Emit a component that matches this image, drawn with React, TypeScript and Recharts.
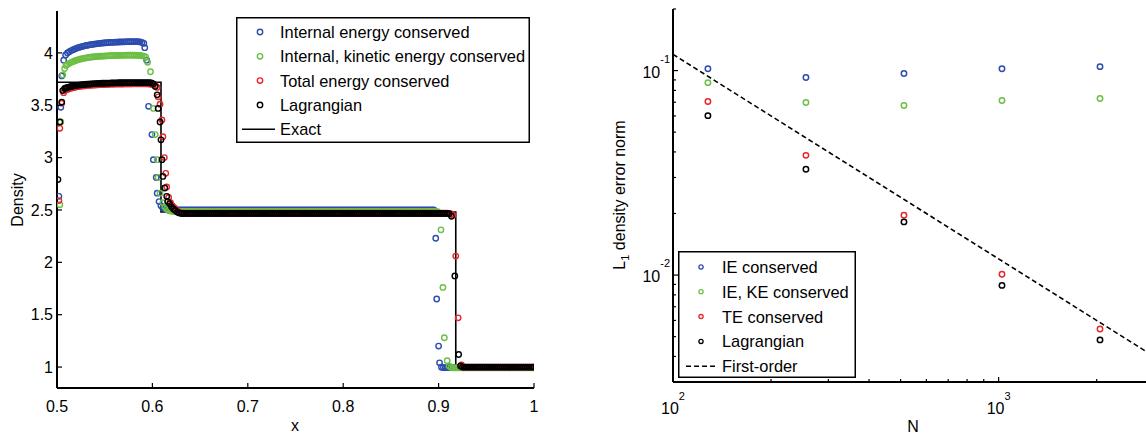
import React from 'react';
import { ComposedChart, Scatter, Line, XAxis, YAxis, Legend } from 'recharts';

const FONT = '"Liberation Sans", Arial, Helvetica, sans-serif';
const BLUE = '#2c4cae';
const GREEN = '#6cbf45';
const RED = '#e8262b';
const BLACK = '#000000';

// ---------------- Left panel: density profiles ----------------
const xTicksL = [0.5, 0.6, 0.7, 0.8, 0.9, 1];
const yTicksL = [1, 1.5, 2, 2.5, 3, 3.5, 4];
const leftNames = ['Internal energy conserved', 'Internal, kinetic energy conserved', 'Total energy conserved', 'Lagrangian', 'Exact'];

const exactX = [0.5, 0.609, 0.609, 0.918, 0.918, 1.0];
const exactY = [3.72, 3.72, 2.48, 2.48, 1.0, 1.0];

const blueRise = [[0.502, 2.63], [0.504, 3.48], [0.505, 3.78], [0.507, 3.93], [0.509, 3.98]];
const greenRise = [[0.503, 2.55], [0.504, 3.34], [0.506, 3.79], [0.508, 3.85], [0.5095, 3.88]];
const redRise = [[0.502, 2.59], [0.503, 3.28], [0.505, 3.52], [0.507, 3.62], [0.509, 3.645]];
const blackRise = [[0.501, 2.79], [0.503, 3.34], [0.505, 3.53], [0.506, 3.64], [0.508, 3.66], [0.5095, 3.665]];

const xFlatA = [
  0.511, 0.513, 0.515, 0.517, 0.519, 0.521, 0.523, 0.525, 0.527, 0.529,
  0.531, 0.533, 0.535, 0.537, 0.539, 0.541, 0.543, 0.545, 0.547, 0.549,
  0.551, 0.553, 0.555, 0.557, 0.559, 0.561, 0.563, 0.565, 0.567, 0.569,
  0.571, 0.573, 0.575, 0.577, 0.579, 0.581, 0.583, 0.585, 0.587, 0.589,
];
const blueFlatA = [
  4.000, 4.012, 4.022, 4.031, 4.039, 4.046, 4.052, 4.058, 4.063, 4.067,
  4.071, 4.075, 4.078, 4.081, 4.084, 4.087, 4.089, 4.091, 4.093, 4.095,
  4.097, 4.098, 4.099, 4.100, 4.101, 4.102, 4.103, 4.104, 4.105, 4.106,
  4.106, 4.107, 4.107, 4.108, 4.108, 4.108, 4.108, 4.107, 4.105, 4.100,
];
const greenFlatA = [
  3.890, 3.900, 3.910, 3.918, 3.925, 3.931, 3.937, 3.942, 3.946, 3.950,
  3.953, 3.956, 3.959, 3.961, 3.963, 3.965, 3.967, 3.968, 3.969, 3.970,
  3.971, 3.972, 3.973, 3.974, 3.975, 3.975, 3.976, 3.976, 3.977, 3.977,
  3.977, 3.978, 3.978, 3.978, 3.978, 3.978, 3.977, 3.976, 3.975, 3.972,
];
const redFlatA = [
  3.650, 3.657, 3.663, 3.668, 3.672, 3.676, 3.679, 3.682, 3.684, 3.686,
  3.688, 3.690, 3.691, 3.692, 3.693, 3.694, 3.695, 3.696, 3.697, 3.698,
  3.699, 3.700, 3.700, 3.701, 3.701, 3.702, 3.702, 3.703, 3.703, 3.703,
  3.704, 3.704, 3.704, 3.704, 3.705, 3.705, 3.705, 3.705, 3.705, 3.705,
];
const blackFlatA = [
  3.670, 3.675, 3.680, 3.684, 3.687, 3.690, 3.693, 3.695, 3.697, 3.699,
  3.701, 3.702, 3.703, 3.705, 3.706, 3.707, 3.708, 3.709, 3.710, 3.710,
  3.711, 3.712, 3.712, 3.713, 3.713, 3.714, 3.714, 3.715, 3.715, 3.715,
  3.716, 3.716, 3.716, 3.717, 3.717, 3.717, 3.717, 3.717, 3.717, 3.717,
];

const blueDrop1 = [[0.591, 4.09], [0.592, 4.05], [0.594, 3.93], [0.596, 3.49], [0.5995, 3.22], [0.601, 2.98], [0.604, 2.81], [0.605, 2.66], [0.607, 2.58], [0.609, 2.54], [0.611, 2.52], [0.613, 2.51], [0.615, 2.503], [0.617, 2.5], [0.619, 2.5], [0.621, 2.5], [0.623, 2.5], [0.625, 2.5], [0.627, 2.5], [0.629, 2.5]];
const greenDrop1 = [[0.591, 3.97], [0.593, 3.96], [0.595, 3.91], [0.598, 3.82], [0.601, 3.47], [0.603, 3.22], [0.605, 2.98], [0.606, 2.81], [0.608, 2.66], [0.611, 2.57], [0.613, 2.53], [0.615, 2.51], [0.617, 2.495], [0.619, 2.49], [0.621, 2.487], [0.623, 2.487], [0.625, 2.487], [0.627, 2.487], [0.629, 2.487]];
const redDrop1 = [[0.591, 3.705], [0.593, 3.705], [0.595, 3.704], [0.597, 3.703], [0.599, 3.7], [0.601, 3.695], [0.603, 3.69], [0.605, 3.67], [0.606, 3.58], [0.608, 3.51], [0.61, 3.36], [0.611, 3.2], [0.6125, 3.0], [0.614, 2.85], [0.615, 2.72], [0.617, 2.62], [0.619, 2.57], [0.621, 2.54], [0.623, 2.52], [0.625, 2.5], [0.627, 2.485], [0.629, 2.475]];
const blackDrop1 = [[0.591, 3.717], [0.593, 3.717], [0.595, 3.716], [0.597, 3.715], [0.599, 3.713], [0.601, 3.705], [0.603, 3.68], [0.605, 3.6], [0.606, 3.47], [0.608, 3.34], [0.609, 3.17], [0.61, 2.98], [0.611, 2.82], [0.613, 2.71], [0.615, 2.63], [0.616, 2.58], [0.618, 2.56], [0.62, 2.53], [0.622, 2.51], [0.624, 2.495], [0.626, 2.48], [0.628, 2.472], [0.63, 2.468]];

const xFlatB = [
  0.631, 0.633, 0.635, 0.637, 0.639, 0.641, 0.643, 0.645, 0.647, 0.649,
  0.651, 0.653, 0.655, 0.657, 0.659, 0.661, 0.663, 0.665, 0.667, 0.669,
  0.671, 0.673, 0.675, 0.677, 0.679, 0.681, 0.683, 0.685, 0.687, 0.689,
  0.691, 0.693, 0.695, 0.697, 0.699, 0.701, 0.703, 0.705, 0.707, 0.709,
  0.711, 0.713, 0.715, 0.717, 0.719, 0.721, 0.723, 0.725, 0.727, 0.729,
  0.731, 0.733, 0.735, 0.737, 0.739, 0.741, 0.743, 0.745, 0.747, 0.749,
  0.751, 0.753, 0.755, 0.757, 0.759, 0.761, 0.763, 0.765, 0.767, 0.769,
  0.771, 0.773, 0.775, 0.777, 0.779, 0.781, 0.783, 0.785, 0.787, 0.789,
  0.791, 0.793, 0.795, 0.797, 0.799, 0.801, 0.803, 0.805, 0.807, 0.809,
  0.811, 0.813, 0.815, 0.817, 0.819, 0.821, 0.823, 0.825, 0.827, 0.829,
  0.831, 0.833, 0.835, 0.837, 0.839, 0.841, 0.843, 0.845, 0.847, 0.849,
  0.851, 0.853, 0.855, 0.857, 0.859, 0.861, 0.863, 0.865, 0.867, 0.869,
  0.871, 0.873, 0.875, 0.877, 0.879, 0.881, 0.883, 0.885, 0.887, 0.889,
  0.891, 0.893,
];
const blueFlatB = [
  2.5, 2.5, 2.5, 2.5, 2.5, 2.5, 2.5, 2.5, 2.5, 2.5, 2.5, 2.5,
  2.5, 2.5, 2.5, 2.5, 2.5, 2.5, 2.5, 2.5, 2.5, 2.5, 2.5, 2.5,
  2.5, 2.5, 2.5, 2.5, 2.5, 2.5, 2.5, 2.5, 2.5, 2.5, 2.5, 2.5,
  2.5, 2.5, 2.5, 2.5, 2.5, 2.5, 2.5, 2.5, 2.5, 2.5, 2.5, 2.5,
  2.5, 2.5, 2.5, 2.5, 2.5, 2.5, 2.5, 2.5, 2.5, 2.5, 2.5, 2.5,
  2.5, 2.5, 2.5, 2.5, 2.5, 2.5, 2.5, 2.5, 2.5, 2.5, 2.5, 2.5,
  2.5, 2.5, 2.5, 2.5, 2.5, 2.5, 2.5, 2.5, 2.5, 2.5, 2.5, 2.5,
  2.5, 2.5, 2.5, 2.5, 2.5, 2.5, 2.5, 2.5, 2.5, 2.5, 2.5, 2.5,
  2.5, 2.5, 2.5, 2.5, 2.5, 2.5, 2.5, 2.5, 2.5, 2.5, 2.5, 2.5,
  2.5, 2.5, 2.5, 2.5, 2.5, 2.5, 2.5, 2.5, 2.5, 2.5, 2.5, 2.5,
  2.5, 2.5, 2.5, 2.5, 2.5, 2.5, 2.5, 2.5, 2.5, 2.5, 2.5, 2.5,
];
const greenFlatB = [
  2.487, 2.487, 2.487, 2.487, 2.487, 2.487, 2.487, 2.487, 2.487, 2.487, 2.487, 2.487,
  2.487, 2.487, 2.487, 2.487, 2.487, 2.487, 2.487, 2.487, 2.487, 2.487, 2.487, 2.487,
  2.487, 2.487, 2.487, 2.487, 2.487, 2.487, 2.487, 2.487, 2.487, 2.487, 2.487, 2.487,
  2.487, 2.487, 2.487, 2.487, 2.487, 2.487, 2.487, 2.487, 2.487, 2.487, 2.487, 2.487,
  2.487, 2.487, 2.487, 2.487, 2.487, 2.487, 2.487, 2.487, 2.487, 2.487, 2.487, 2.487,
  2.487, 2.487, 2.487, 2.487, 2.487, 2.487, 2.487, 2.487, 2.487, 2.487, 2.487, 2.487,
  2.487, 2.487, 2.487, 2.487, 2.487, 2.487, 2.487, 2.487, 2.487, 2.487, 2.487, 2.487,
  2.487, 2.487, 2.487, 2.487, 2.487, 2.487, 2.487, 2.487, 2.487, 2.487, 2.487, 2.487,
  2.487, 2.487, 2.487, 2.487, 2.487, 2.487, 2.487, 2.487, 2.487, 2.487, 2.487, 2.487,
  2.487, 2.487, 2.487, 2.487, 2.487, 2.487, 2.487, 2.487, 2.487, 2.487, 2.487, 2.487,
  2.487, 2.487, 2.487, 2.487, 2.487, 2.487, 2.487, 2.487, 2.487, 2.487, 2.487, 2.487,
];
const redFlatB = [
  2.47, 2.47, 2.47, 2.47, 2.47, 2.47, 2.47, 2.47, 2.47, 2.47, 2.47, 2.47,
  2.47, 2.47, 2.47, 2.47, 2.47, 2.47, 2.47, 2.47, 2.47, 2.47, 2.47, 2.47,
  2.47, 2.47, 2.47, 2.47, 2.47, 2.47, 2.47, 2.47, 2.47, 2.47, 2.47, 2.47,
  2.47, 2.47, 2.47, 2.47, 2.47, 2.47, 2.47, 2.47, 2.47, 2.47, 2.47, 2.47,
  2.47, 2.47, 2.47, 2.47, 2.47, 2.47, 2.47, 2.47, 2.47, 2.47, 2.47, 2.47,
  2.47, 2.47, 2.47, 2.47, 2.47, 2.47, 2.47, 2.47, 2.47, 2.47, 2.47, 2.47,
  2.47, 2.47, 2.47, 2.47, 2.47, 2.47, 2.47, 2.47, 2.47, 2.47, 2.47, 2.47,
  2.47, 2.47, 2.47, 2.47, 2.47, 2.47, 2.47, 2.47, 2.47, 2.47, 2.47, 2.47,
  2.47, 2.47, 2.47, 2.47, 2.47, 2.47, 2.47, 2.47, 2.47, 2.47, 2.47, 2.47,
  2.47, 2.47, 2.47, 2.47, 2.47, 2.47, 2.47, 2.47, 2.47, 2.47, 2.47, 2.47,
  2.47, 2.47, 2.47, 2.47, 2.47, 2.47, 2.47, 2.47, 2.47, 2.47, 2.47, 2.47,
];
const blackFlatB = [
  2.467, 2.467, 2.467, 2.467, 2.467, 2.467, 2.467, 2.467, 2.467, 2.467, 2.467, 2.467,
  2.467, 2.467, 2.467, 2.467, 2.467, 2.467, 2.467, 2.467, 2.467, 2.467, 2.467, 2.467,
  2.467, 2.467, 2.467, 2.467, 2.467, 2.467, 2.467, 2.467, 2.467, 2.467, 2.467, 2.467,
  2.467, 2.467, 2.467, 2.467, 2.467, 2.467, 2.467, 2.467, 2.467, 2.467, 2.467, 2.467,
  2.467, 2.467, 2.467, 2.467, 2.467, 2.467, 2.467, 2.467, 2.467, 2.467, 2.467, 2.467,
  2.467, 2.467, 2.467, 2.467, 2.467, 2.467, 2.467, 2.467, 2.467, 2.467, 2.467, 2.467,
  2.467, 2.467, 2.467, 2.467, 2.467, 2.467, 2.467, 2.467, 2.467, 2.467, 2.467, 2.467,
  2.467, 2.467, 2.467, 2.467, 2.467, 2.467, 2.467, 2.467, 2.467, 2.467, 2.467, 2.467,
  2.467, 2.467, 2.467, 2.467, 2.467, 2.467, 2.467, 2.467, 2.467, 2.467, 2.467, 2.467,
  2.467, 2.467, 2.467, 2.467, 2.467, 2.467, 2.467, 2.467, 2.467, 2.467, 2.467, 2.467,
  2.467, 2.467, 2.467, 2.467, 2.467, 2.467, 2.467, 2.467, 2.467, 2.467, 2.467, 2.467,
];

const blueDrop2 = [[0.895, 2.5], [0.897, 2.23], [0.898, 1.65], [0.9, 1.2], [0.901, 1.04], [0.903, 0.998], [0.905, 0.995], [0.907, 0.995], [0.909, 0.995], [0.911, 0.995], [0.913, 0.995]];
const greenDrop2 = [[0.895, 2.487], [0.897, 2.487], [0.899, 2.485], [0.9025, 2.31], [0.9045, 1.76], [0.906, 1.28], [0.909, 1.06], [0.911, 1.01], [0.913, 0.996]];
const redDrop2 = [[0.895, 2.47], [0.897, 2.47], [0.899, 2.47], [0.901, 2.47], [0.903, 2.47], [0.905, 2.47], [0.907, 2.47], [0.909, 2.47], [0.911, 2.468], [0.913, 2.462], [0.915, 2.45], [0.918, 2.06], [0.9205, 1.47], [0.924, 1.02]];
const blackDrop2 = [[0.895, 2.467], [0.897, 2.467], [0.899, 2.467], [0.901, 2.467], [0.903, 2.467], [0.905, 2.467], [0.907, 2.467], [0.909, 2.467], [0.911, 2.465], [0.9135, 2.44], [0.917, 1.87], [0.921, 1.12], [0.923, 1.01]];

const xFlatD = [
  0.915, 0.917, 0.919, 0.921, 0.923, 0.925, 0.927, 0.929, 0.931, 0.933,
  0.935, 0.937, 0.939, 0.941, 0.943, 0.945, 0.947, 0.949, 0.951, 0.953,
  0.955, 0.957, 0.959, 0.961, 0.963, 0.965, 0.967, 0.969, 0.971, 0.973,
  0.975, 0.977, 0.979, 0.981, 0.983, 0.985, 0.987, 0.989, 0.991, 0.993,
  0.995, 0.997, 0.999,
];
const blueFlatD = [
  0.995, 0.995, 0.995, 0.995, 0.995, 0.995, 0.995, 0.995, 0.995, 0.995,
  0.995, 0.995, 0.995, 0.995, 0.995, 0.995, 0.995, 0.995, 0.995, 0.995,
  0.995, 0.995, 0.995, 0.995, 0.995, 0.995, 0.995, 0.995, 0.995, 0.995,
  0.995, 0.995, 0.995, 0.995, 0.995, 0.995, 0.995, 0.995, 0.995, 0.995,
  0.995, 0.995, 0.995,
];
const greenFlatD = [
  0.993, 0.993, 0.993, 0.993, 0.993, 0.993, 0.993, 0.993, 0.993, 0.993,
  0.993, 0.993, 0.993, 0.993, 0.993, 0.993, 0.993, 0.993, 0.993, 0.993,
  0.993, 0.993, 0.993, 0.993, 0.993, 0.993, 0.993, 0.993, 0.993, 0.993,
  0.993, 0.993, 0.993, 0.993, 0.993, 0.993, 0.993, 0.993, 0.993, 0.993,
  0.993, 0.993, 0.993,
];
const xFlatRed = [
  0.926, 0.928, 0.93, 0.932, 0.934, 0.936, 0.938, 0.94, 0.942, 0.944,
  0.946, 0.948, 0.95, 0.952, 0.954, 0.956, 0.958, 0.96, 0.962, 0.964,
  0.966, 0.968, 0.97, 0.972, 0.974, 0.976, 0.978, 0.98, 0.982, 0.984,
  0.986, 0.988, 0.99, 0.992, 0.994, 0.996, 0.998, 1.0,
];
const redFlatE = [
  1, 1, 1, 1, 1, 1, 1, 1, 1, 1, 1, 1, 1, 1, 1, 1, 1, 1, 1,
  1, 1, 1, 1, 1, 1, 1, 1, 1, 1, 1, 1, 1, 1, 1, 1, 1, 1, 1,
];
const xFlatBlack = [
  0.925, 0.927, 0.929, 0.931, 0.933, 0.935, 0.937, 0.939, 0.941, 0.943,
  0.945, 0.947, 0.949, 0.951, 0.953, 0.955, 0.957, 0.959, 0.961, 0.963,
  0.965, 0.967, 0.969, 0.971, 0.973, 0.975, 0.977, 0.979, 0.981, 0.983,
  0.985, 0.987, 0.989, 0.991, 0.993, 0.995, 0.997, 0.999,
];
const blackFlatE = [
  1, 1, 1, 1, 1, 1, 1, 1, 1, 1, 1, 1, 1, 1, 1, 1, 1, 1, 1,
  1, 1, 1, 1, 1, 1, 1, 1, 1, 1, 1, 1, 1, 1, 1, 1, 1, 1, 1,
];

// ---------------- Right panel: L1 error vs N ----------------
const nValues = [128, 256, 512, 1024, 2048];
const ieErr = [0.102, 0.0925, 0.0967, 0.102, 0.1045];
const ikeErr = [0.0873, 0.0698, 0.0675, 0.0714, 0.073];
const teErr = [0.0706, 0.0385, 0.0196, 0.0101, 0.00545];
const lagErr = [0.0602, 0.0329, 0.0182, 0.0089, 0.00482];
const firstOrderN = [100, 3000];
const firstOrderErr = [0.12, 0.004];
const rightNames = ['IE conserved', 'IE, KE conserved', 'TE conserved', 'Lagrangian', 'First-order'];

const nTicks = [100, 200, 300, 400, 500, 600, 700, 800, 900, 1000, 2000, 3000];
const nMajor = [100, 1000];
const errTicks = [0.003, 0.004, 0.005, 0.006, 0.007, 0.008, 0.009, 0.01, 0.02, 0.03, 0.04, 0.05, 0.06, 0.07, 0.08, 0.09, 0.1, 0.2];
const errMajor = [0.01, 0.1];

// ---------------- helpers ----------------
const pts = (xs: number[], ys: number[]) => xs.map((x, i) => ({ x, y: ys[i] }));
const pairs = (a: number[][]) => a.map(([x, y]) => ({ x, y }));

const blueData = [...pairs(blueRise), ...pts(xFlatA, blueFlatA), ...pairs(blueDrop1), ...pts(xFlatB, blueFlatB), ...pairs(blueDrop2), ...pts(xFlatD, blueFlatD)];
const greenData = [...pairs(greenRise), ...pts(xFlatA, greenFlatA), ...pairs(greenDrop1), ...pts(xFlatB, greenFlatB), ...pairs(greenDrop2), ...pts(xFlatD, greenFlatD)];
const redData = [...pairs(redRise), ...pts(xFlatA, redFlatA), ...pairs(redDrop1), ...pts(xFlatB, redFlatB), ...pairs(redDrop2), ...pts(xFlatRed, redFlatE)];
const blackData = [...pairs(blackRise), ...pts(xFlatA, blackFlatA), ...pairs(blackDrop1), ...pts(xFlatB, blackFlatB), ...pairs(blackDrop2), ...pts(xFlatBlack, blackFlatE)];
const exactData = pts(exactX, exactY);

const ieData = pts(nValues, ieErr);
const ikeData = pts(nValues, ikeErr);
const teData = pts(nValues, teErr);
const lagData = pts(nValues, lagErr);
const firstOrderData = pts(firstOrderN, firstOrderErr);

const ring = (color: string, r = 2.7, sw = 1.4) => (p: any) =>
  p && p.cx != null && p.cy != null ? (
    <circle cx={p.cx} cy={p.cy} r={r} fill="none" stroke={color} strokeWidth={sw} />
  ) : (
    <g />
  );

type Side = 'bottom' | 'top' | 'left' | 'right';
function tickRenderer(
  side: Side,
  margin: number,
  majors: number[] | null,
  label?: (v: number, ax: number, ay: number) => React.ReactNode,
) {
  return (props: any) => {
    const { x, y, payload } = props;
    const v = payload?.value as number;
    const isMajor = majors ? majors.some((m) => Math.abs(m - v) < 1e-9) : true;
    const L = isMajor ? 5 : 3;
    let ax = x, ay = y, x2 = x, y2 = y;
    if (side === 'bottom') { ay = y - margin; y2 = ay - L; }
    else if (side === 'top') { ay = y + margin; y2 = ay + L; }
    else if (side === 'left') { ax = x + margin; x2 = ax + L; }
    else { ax = x - margin; x2 = ax - L; }
    return (
      <g>
        <line x1={ax} y1={ay} x2={x2} y2={y2} stroke="#000" strokeWidth={1.2} />
        {label && isMajor ? label(v, ax, ay) : null}
      </g>
    );
  };
}

const AX = { stroke: '#000', strokeWidth: 2 };
const M = 10;

const leftXLabel = (v: number, ax: number, ay: number) => (
  <text x={ax} y={ay + 24} textAnchor="middle" fontSize={16} fill="#000" fontFamily={FONT}>{String(v)}</text>
);
const leftYLabel = (v: number, ax: number, ay: number) => (
  <text x={ax - 4} y={ay + 5.8} textAnchor="end" fontSize={16} fill="#000" fontFamily={FONT}>{String(v)}</text>
);
const logXLabel = (v: number, ax: number, ay: number) => (
  <text x={ax} y={ay + 32} textAnchor="middle" fontSize={16} fill="#000" fontFamily={FONT}>
    10<tspan dy={-14} fontSize={11}>{String(Math.round(Math.log10(v)))}</tspan>
  </text>
);
const logYLabel = (v: number, ax: number, ay: number) => (
  <text x={ax - 3} y={ay + 7} textAnchor="end" fontSize={16} fill="#000" fontFamily={FONT}>
    10<tspan dy={-15} fontSize={11}>{String(Math.round(Math.log10(v)))}</tspan>
  </text>
);

const leftColors = [BLUE, GREEN, RED, BLACK];

const LeftLegendBox = () => (
  <svg width={294} height={126} style={{ display: 'block' }}>
    <rect x={0.75} y={0.75} width={292.5} height={124.5} fill="#fff" stroke="#000" strokeWidth={1.5} />
    {leftNames.map((name, i) => {
      const cy = 15 + i * 24.3;
      return (
        <g key={name}>
          {i < 4 ? (
            <circle cx={24} cy={cy} r={2.7} fill="none" stroke={leftColors[i]} strokeWidth={1.4} />
          ) : (
            <line x1={6} x2={39} y1={cy} y2={cy} stroke="#000" strokeWidth={1.5} />
          )}
          <text x={44} y={cy + 5.9} fontSize={16.4} fill="#000" fontFamily={FONT}>{name}</text>
        </g>
      );
    })}
  </svg>
);

const RightLegendBox = () => (
  <svg width={178} height={127} style={{ display: 'block' }}>
    <rect x={0.75} y={0.75} width={176.5} height={125.5} fill="#fff" stroke="#000" strokeWidth={1.5} />
    {rightNames.map((name, i) => {
      const cy = 16 + i * 24.8;
      return (
        <g key={name}>
          {i < 4 ? (
            <circle cx={23} cy={cy} r={2.1} fill="none" stroke={leftColors[i]} strokeWidth={1.3} />
          ) : (
            <line x1={8} x2={39} y1={cy} y2={cy} stroke="#000" strokeWidth={1.5} strokeDasharray="5 3" />
          )}
          <text x={44} y={cy + 5.9} fontSize={16.4} fill="#000" fontFamily={FONT}>{name}</text>
        </g>
      );
    })}
  </svg>
);

function LeftChart() {
  return (
    <ComposedChart width={560} height={435} margin={{ top: 11, right: 26, bottom: 0, left: 0 }}>
      <XAxis
        xAxisId="b" dataKey="x" type="number" domain={[0.5, 1]} allowDataOverflow ticks={xTicksL} interval={0}
        height={47} tickSize={0} tickMargin={M} tickLine={false} axisLine={AX}
        tick={tickRenderer('bottom', M, null, leftXLabel)}
        label={() => <text x={295} y={431} textAnchor="middle" fontSize={16} fill="#000" fontFamily={FONT}>x</text>}
      />
      <XAxis
        xAxisId="t" orientation="top" dataKey="x" type="number" domain={[0.5, 1]} allowDataOverflow ticks={xTicksL} interval={0}
        height={0} tickSize={0} tickMargin={M} tickLine={false} axisLine={AX}
        tick={tickRenderer('top', M, null)}
      />
      <YAxis
        yAxisId="l" dataKey="y" type="number" domain={[0.8, 4.4]} allowDataOverflow ticks={yTicksL} interval={0}
        width={57} tickSize={0} tickMargin={M} tickLine={false} axisLine={AX}
        tick={tickRenderer('left', M, null, leftYLabel)}
        label={() => <text x={23} y={200} transform="rotate(-90 23 200)" textAnchor="middle" fontSize={16} fill="#000" fontFamily={FONT}>Density</text>}
      />
      <YAxis
        yAxisId="r" orientation="right" dataKey="y" type="number" domain={[0.8, 4.4]} allowDataOverflow ticks={yTicksL} interval={0}
        width={0} tickSize={0} tickMargin={M} tickLine={false} axisLine={AX}
        tick={tickRenderer('right', M, null)}
      />
      <Scatter name={leftNames[0]} xAxisId="b" yAxisId="l" data={blueData} shape={ring(BLUE)} isAnimationActive={false} />
      <Scatter name={leftNames[1]} xAxisId="b" yAxisId="l" data={greenData} shape={ring(GREEN)} isAnimationActive={false} />
      <Scatter name={leftNames[2]} xAxisId="b" yAxisId="l" data={redData} shape={ring(RED)} isAnimationActive={false} />
      <Scatter name={leftNames[3]} xAxisId="b" yAxisId="l" data={blackData} shape={ring(BLACK)} isAnimationActive={false} />
      <Line name={leftNames[4]} xAxisId="b" yAxisId="l" data={exactData} dataKey="y" type="linear" stroke="#000" strokeWidth={1.6} dot={false} activeDot={false} isAnimationActive={false} />
      <Legend
        layout="vertical" align="center" verticalAlign="middle"
        wrapperStyle={{ position: 'absolute', left: 236, top: 17, width: 294, height: 126, margin: 0, padding: 0 }}
        content={() => <LeftLegendBox />}
      />
    </ComposedChart>
  );
}

function RightChart() {
  return (
    <ComposedChart width={574} height={435} margin={{ top: 9, right: 10, bottom: 0, left: 0 }}>
      <XAxis
        xAxisId="b" dataKey="x" type="number" scale="log" domain={[100, 3000]} allowDataOverflow ticks={nTicks} interval={0}
        height={53} tickSize={0} tickMargin={M} tickLine={false} axisLine={AX}
        tick={tickRenderer('bottom', M, nMajor, logXLabel)}
        label={() => <text x={323} y={432} textAnchor="middle" fontSize={16} fill="#000" fontFamily={FONT}>N</text>}
      />
      <XAxis
        xAxisId="t" orientation="top" dataKey="x" type="number" scale="log" domain={[100, 3000]} allowDataOverflow ticks={nTicks} interval={0}
        height={0} tickSize={0} tickMargin={M} tickLine={false} axisLine={AX}
        tick={tickRenderer('top', M, nMajor)}
      />
      <YAxis
        yAxisId="l" dataKey="y" type="number" scale="log" domain={[0.003, 0.2]} allowDataOverflow ticks={errTicks} interval={0}
        width={83} tickSize={0} tickMargin={M} tickLine={false} axisLine={AX}
        tick={tickRenderer('left', M, errMajor, logYLabel)}
        label={() => (
          <text x={35} y={195} transform="rotate(-90 35 195)" textAnchor="middle" fontSize={16} fill="#000" fontFamily={FONT}>
            L<tspan dy={4} fontSize={11}>1</tspan><tspan dy={-4}> density error norm</tspan>
          </text>
        )}
      />
      <YAxis
        yAxisId="r" orientation="right" dataKey="y" type="number" scale="log" domain={[0.003, 0.2]} allowDataOverflow ticks={errTicks} interval={0}
        width={0} tickSize={0} tickMargin={M} tickLine={false} axisLine={AX}
        tick={tickRenderer('right', M, errMajor)}
      />
      <Line name={rightNames[4]} xAxisId="b" yAxisId="l" data={firstOrderData} dataKey="y" type="linear" stroke="#000" strokeWidth={1.6} strokeDasharray="5 3" dot={false} activeDot={false} isAnimationActive={false} />
      <Scatter name={rightNames[0]} xAxisId="b" yAxisId="l" data={ieData} shape={ring(BLUE, 2.7, 1.5)} isAnimationActive={false} />
      <Scatter name={rightNames[1]} xAxisId="b" yAxisId="l" data={ikeData} shape={ring(GREEN, 2.7, 1.5)} isAnimationActive={false} />
      <Scatter name={rightNames[2]} xAxisId="b" yAxisId="l" data={teData} shape={ring(RED, 2.7, 1.5)} isAnimationActive={false} />
      <Scatter name={rightNames[3]} xAxisId="b" yAxisId="l" data={lagData} shape={ring(BLACK, 2.7, 1.5)} isAnimationActive={false} />
      <Legend
        layout="vertical" align="center" verticalAlign="middle"
        wrapperStyle={{ position: 'absolute', left: 88, top: 251, width: 178, height: 127, margin: 0, padding: 0 }}
        content={() => <RightLegendBox />}
      />
    </ComposedChart>
  );
}

export default function App() {
  return (
    <div style={{ position: 'absolute', left: 0, top: 0, width: 1146, height: 435, overflow: 'hidden', background: '#fff', fontFamily: FONT }}>
      <div style={{ position: 'absolute', left: 0, top: 0 }}>
        <LeftChart />
      </div>
      <div style={{ position: 'absolute', left: 590, top: 0 }}>
        <RightChart />
      </div>
    </div>
  );
}
